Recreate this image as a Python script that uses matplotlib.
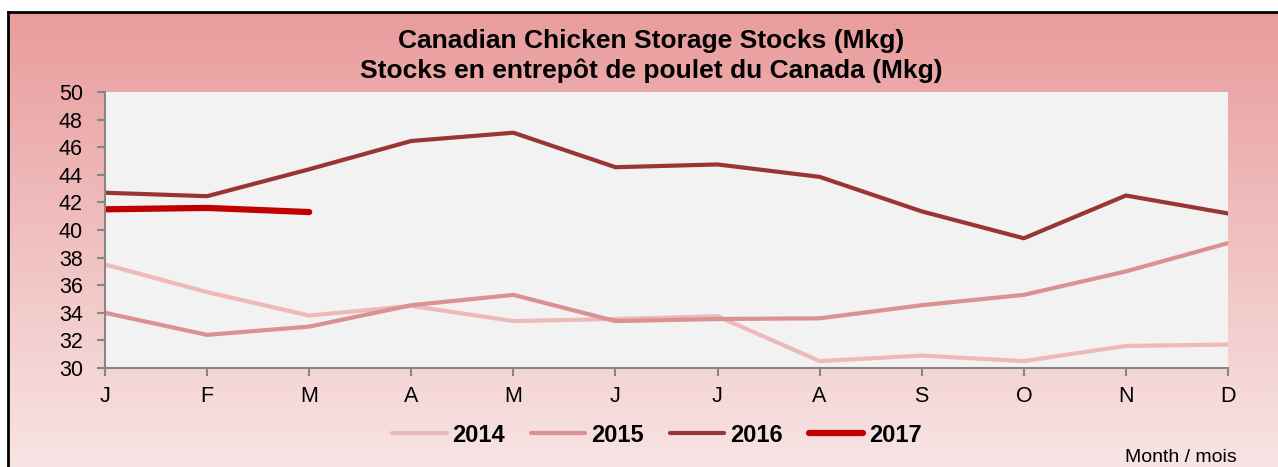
import numpy as np
import matplotlib.pyplot as plt

plt.rcParams['font.family'] = ['Liberation Sans', 'DejaVu Sans']

months = ["J", "F", "M", "A", "M", "J", "J", "A", "S", "O", "N", "D"]
stocks_2014 = [37.5, 35.5, 33.8, 34.5, 33.4, 33.55, 33.75, 30.5, 30.9, 30.5, 31.6, 31.7]
stocks_2015 = [34.0, 32.4, 33.0, 34.55, 35.3, 33.4, 33.55, 33.6, 34.55, 35.3, 37.0, 39.05]
stocks_2016 = [42.7, 42.45, 44.4, 46.45, 47.05, 44.55, 44.75, 43.85, 41.35, 39.4, 42.5, 41.2]
stocks_2017 = [41.5, 41.6, 41.3]

W, H = 1278, 467
fig = plt.figure(figsize=(W / 100, H / 100), dpi=100)

# gradient background inside the frame
bg = fig.add_axes([8 / W, 0, 1 - 8 / W, (H - 12) / H])
grad = np.linspace(0, 1, 256).reshape(-1, 1)
top = np.array([233, 156, 156]) / 255
bot = np.array([248, 228, 228]) / 255
img = top + (bot - top) * grad[:, :, None] * np.ones((1, 1, 3))
bg.imshow(img, aspect='auto', extent=[0, 1, 0, 1])
bg.set_xticks([]); bg.set_yticks([])
for s in ['right', 'bottom']:
    bg.spines[s].set_visible(False)
for s in ['left', 'top']:
    bg.spines[s].set_linewidth(2)
    bg.spines[s].set_color('black')
bg.set_zorder(0)

ax = fig.add_axes([105 / W, 1 - 368 / H, (1228 - 105) / W, (368 - 92) / H])
ax.set_zorder(1)
ax.set_facecolor('#F2F2F2')
x = np.arange(len(months))
ax.plot(x, stocks_2014, color='#EDB9B9', lw=3, label='2014', solid_capstyle='round')
ax.plot(x, stocks_2015, color='#DA9191', lw=3, label='2015', solid_capstyle='round')
ax.plot(x, stocks_2016, color='#993535', lw=3, label='2016', solid_capstyle='round')
ax.plot(np.arange(len(stocks_2017)), stocks_2017, color='#C00000', lw=4.5, label='2017',
        solid_capstyle='round')
ax.set_xlim(0, 11)
ax.set_ylim(30, 50)
ax.set_yticks(range(30, 51, 2))
ax.set_xticks(x)
ax.set_xticklabels(months)
for s in ['top', 'right']:
    ax.spines[s].set_visible(False)
for s in ['left', 'bottom']:
    ax.spines[s].set_color('#868686')
    ax.spines[s].set_linewidth(1.5)
ax.tick_params(axis='both', colors='#868686', length=6, width=1.5, labelsize=15.5,
               labelcolor='black')
ax.tick_params(axis='x', pad=7)
ax.tick_params(axis='y', pad=10)

fig.text(651 / W, 1 - 41 / H, "Canadian Chicken Storage Stocks (Mkg)", ha='center', va='center',
         fontsize=19, fontweight='bold')
fig.text(651 / W, 1 - 71 / H, "Stocks en entrepôt de poulet du Canada (Mkg)", ha='center',
         va='center', fontsize=19, fontweight='bold')

handles, labels = ax.get_legend_handles_labels()
leg = fig.legend(handles, labels, loc='center', bbox_to_anchor=(0.514, 1 - 435 / H), ncol=4,
                 frameon=False, prop={'weight': 'bold', 'size': 17}, handlelength=2.3,
                 columnspacing=1.1, handletextpad=0.25)

fig.text(1237 / W, 1 - 457 / H, "Month / mois", ha='right', va='center', fontsize=14)

fig.savefig('out.png', dpi=100)
